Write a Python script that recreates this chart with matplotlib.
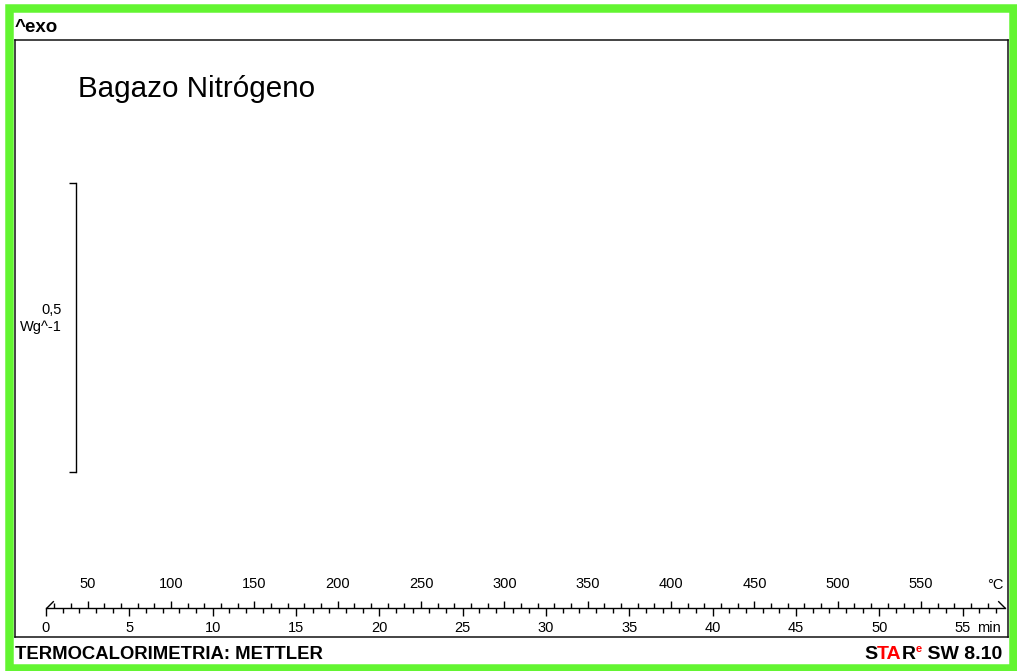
import numpy as np
import matplotlib
matplotlib.use("Agg")
import matplotlib.pyplot as plt
from matplotlib.patches import Rectangle
from matplotlib.path import Path
from matplotlib.ticker import FixedLocator, MultipleLocator

plt.rcParams['font.family'] = ['Liberation Sans', 'DejaVu Sans']

# Run settings for the DSC curve frame
title = "Bagazo Nitrógeno"
start_temp = 25.0        # °C
heating_rate = 10.0      # K/min
end_temp = 600.0         # °C
time_ticks = [0, 5, 10, 15, 20, 25, 30, 35, 40, 45, 50, 55]
temp_ticks = [50, 100, 150, 200, 250, 300, 350, 400, 450, 500, 550]
temp_minor = list(range(30, 600, 10))
scale_value = 0.5        # W/g, length of the ordinate bar
scale_unit = "Wg^-1"

W, H = 1017, 671


def fx(px):
    return px / W


def fy(py):
    return 1 - py / H


def to_temp(t):
    return start_temp + heating_rate * np.asarray(t)


def to_time(T):
    return (np.asarray(T) - start_temp) / heating_rate


t_end = float(to_time(end_temp))
green = '#63f531'

fig = plt.figure(figsize=(W / 100, H / 100), dpi=100)

# outer green border
fig.patches.append(Rectangle((fx(8.5), fy(668)), fx(1013) - fx(8.5), fy(7.5) - fy(668),
                             transform=fig.transFigure, fill=False, ec=green,
                             lw=8.5 * 0.72, zorder=0))

# plot frame
ax = fig.add_axes([fx(15), fy(637), fx(1008) - fx(15), fy(40) - fy(637)])
ax.set_xticks([])
ax.set_yticks([])
for s in ax.spines.values():
    s.set_linewidth(1.1)
    s.set_color('#111111')
ax.patch.set_alpha(0)

fig.text(fx(15), fy(32), "^exo", fontsize=13.5, fontweight='bold', ha='left', va='baseline')
fig.text(fx(78), fy(97), title, fontsize=21.3, ha='left', va='baseline')

# time axis (min) with the temperature scale on top of the same line
sc = fig.add_axes([fx(46), fy(608), fx(1004.5) - fx(46), 1e-4])
sc.patch.set_alpha(0)
sc.set_xlim(0, t_end)
sc.set_ylim(0, 1)
sc.set_yticks([])
for side in ['left', 'right', 'top']:
    sc.spines[side].set_visible(False)
sc.spines['bottom'].set_linewidth(1.0)
sc.set_xticks(time_ticks)
sc.xaxis.set_minor_locator(MultipleLocator(1))
sc.tick_params(axis='x', which='major', direction='out', length=6, width=1.0,
               pad=3, labelsize=10.5)
sc.tick_params(axis='x', which='minor', direction='out', length=3.6, width=1.0)

sec = sc.secondary_xaxis('top', functions=(to_temp, to_time))
sec.spines['top'].set_visible(False)
sec.set_xticks(temp_ticks)
sec.xaxis.set_minor_locator(FixedLocator(temp_minor))
sec.tick_params(axis='x', which='major', direction='out', length=5, width=1.0,
                pad=7, labelsize=10.5)
sec.tick_params(axis='x', which='minor', direction='out', length=3.6, width=1.0)

# slanted end caps of the scale line
sc.plot([0], [0], marker=Path([(0, 0), (1, 1)]), ms=10.5, mew=1.0, color='k', clip_on=False)
sc.plot([t_end], [0], marker=Path([(0, 0), (-1, 1)]), ms=10.5, mew=1.0, color='k', clip_on=False)

fig.text(fx(1001), fy(628), "min", ha='right', va='center', fontsize=10.5)
fig.text(fx(1003), fy(585), "°C", ha='right', va='center', fontsize=10.5)

# ordinate scale bar
bar = fig.add_axes([fx(66), fy(472), fx(76) - fx(66), fy(183) - fy(472)])
bar.patch.set_alpha(0)
for side in ['left', 'top', 'bottom']:
    bar.spines[side].set_visible(False)
bar.spines['right'].set_linewidth(1.0)
bar.set_xticks([])
bar.set_ylim(0, scale_value)
bar.set_yticks([0, scale_value])
bar.yaxis.set_ticks_position('right')
bar.tick_params(axis='y', direction='in', length=5, width=1.0,
                labelright=False, labelleft=False)
scale_label = f"{scale_value:g}".replace('.', ',')
fig.text(fx(62), fy(310), scale_label, ha='right', va='center', fontsize=10.5)
fig.text(fx(62), fy(327), scale_unit, ha='right', va='center', fontsize=10.5)

# footer
fig.text(fx(15), fy(659), "TERMOCALORIMETRIA: METTLER", fontsize=13.3,
         fontweight='bold', ha='left', va='baseline')

parts = [("S", 'black'), ("TA", 'red'), ("R", 'black')]
prev = fig.text(fx(864), fy(659), parts[0][0], fontsize=14, fontweight='bold',
                color=parts[0][1], ha='left', va='baseline')
for txt, col in parts[1:]:
    prev = ax.annotate(txt, xy=(1, 0), xycoords=prev, ha='left', va='bottom',
                       fontsize=14, fontweight='bold', color=col,
                       annotation_clip=False)
r_text = prev
sup = ax.annotate("e", xy=(1, 0.55), xycoords=r_text, ha='left', va='bottom',
                  fontsize=8, fontweight='bold', color='red', annotation_clip=False)
ax.annotate(" SW 8.10", xy=(1, 0), xycoords=(sup, r_text), ha='left', va='bottom',
            fontsize=14, fontweight='bold', color='black', annotation_clip=False)

fig.savefig("out.png", dpi=100)
